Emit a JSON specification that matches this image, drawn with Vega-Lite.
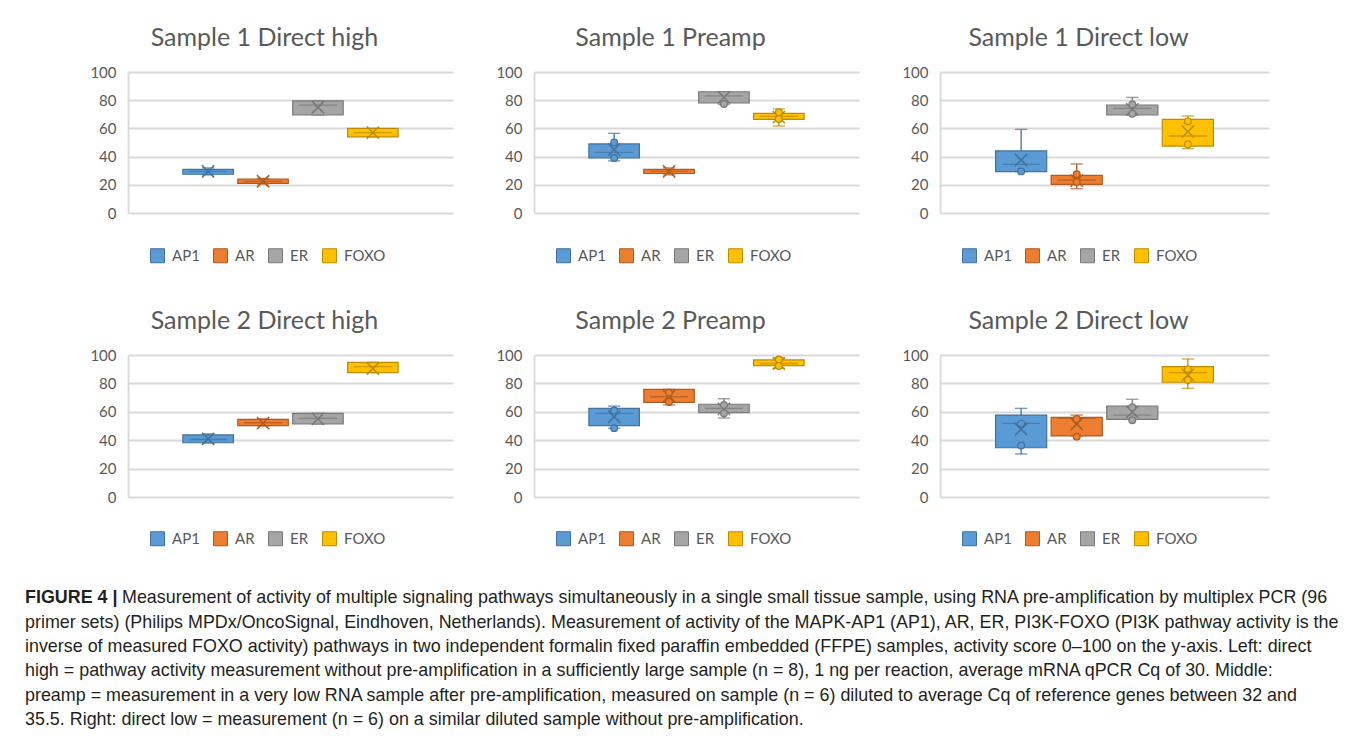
{
"$schema": "https://vega.github.io/schema/vega-lite/v6.json",
"padding": {"left": 25, "top": 26, "right": 0, "bottom": 0},
"background": "white",
"datasets": {
"boxes": [
{"panel":"S1DH","pathway":"AP1","lo":27,"q1":27.5,"med":29.5,"q3":31,"hi":32,"mean":29.5},
{"panel":"S1DH","pathway":"AR","lo":20.5,"q1":21,"med":22.5,"q3":24,"hi":24.5,"mean":22.5},
{"panel":"S1DH","pathway":"ER","lo":69.5,"q1":69.5,"med":76.5,"q3":79.5,"hi":79.5,"mean":75},
{"panel":"S1DH","pathway":"FOXO","lo":54,"q1":54,"med":57,"q3":60,"hi":60,"mean":57},
{"panel":"S1P","pathway":"AP1","lo":37,"q1":39,"med":43,"q3":49,"hi":56.5,"mean":45},
{"panel":"S1P","pathway":"AR","lo":27,"q1":28,"med":29.5,"q3":31,"hi":32,"mean":29.5},
{"panel":"S1P","pathway":"ER","lo":77,"q1":78,"med":83,"q3":86,"hi":86,"mean":82},
{"panel":"S1P","pathway":"FOXO","lo":61.7,"q1":66.4,"med":68.5,"q3":70.7,"hi":73.8,"mean":68},
{"panel":"S1DL","pathway":"AP1","lo":29.3,"q1":29.3,"med":34.5,"q3":44,"hi":59.3,"mean":37.6},
{"panel":"S1DL","pathway":"AR","lo":17.2,"q1":20.3,"med":23.4,"q3":26.7,"hi":34.8,"mean":23},
{"panel":"S1DL","pathway":"ER","lo":69.5,"q1":69.5,"med":74.2,"q3":76.6,"hi":82,"mean":73.5},
{"panel":"S1DL","pathway":"FOXO","lo":45.6,"q1":47.5,"med":54.6,"q3":66.4,"hi":68.8,"mean":57.7},
{"panel":"S2DH","pathway":"AP1","lo":38,"q1":38.2,"med":40.5,"q3":43.7,"hi":44.5,"mean":41},
{"panel":"S2DH","pathway":"AR","lo":50,"q1":50.2,"med":52.3,"q3":54.7,"hi":55,"mean":52},
{"panel":"S2DH","pathway":"ER","lo":51.4,"q1":51.4,"med":55.4,"q3":58.9,"hi":58.9,"mean":55},
{"panel":"S2DH","pathway":"FOXO","lo":87.6,"q1":87.6,"med":91.8,"q3":94.8,"hi":94.8,"mean":90.5},
{"panel":"S2P","pathway":"AP1","lo":48.4,"q1":50.2,"med":58.9,"q3":62.4,"hi":64,"mean":56.5},
{"panel":"S2P","pathway":"AR","lo":64.8,"q1":66.7,"med":70.6,"q3":75.8,"hi":75.8,"mean":71},
{"panel":"S2P","pathway":"ER","lo":55.6,"q1":59.4,"med":62.4,"q3":65.3,"hi":69.2,"mean":62},
{"panel":"S2P","pathway":"FOXO","lo":90.6,"q1":92.5,"med":94,"q3":96.5,"hi":98.1,"mean":94},
{"panel":"S2DL","pathway":"AP1","lo":30.3,"q1":34.7,"med":51.9,"q3":57.7,"hi":62.4,"mean":47.7},
{"panel":"S2DL","pathway":"AR","lo":43,"q1":43,"med":55.4,"q3":56.1,"hi":57.7,"mean":51.4},
{"panel":"S2DL","pathway":"ER","lo":54.7,"q1":54.7,"med":57.7,"q3":64.1,"hi":68.8,"mean":60},
{"panel":"S2DL","pathway":"FOXO","lo":76.5,"q1":80.8,"med":87.6,"q3":91.8,"hi":97.2,"mean":86}
],
"pts": [
{"panel":"S1P","pathway":"AP1","v":50},{"panel":"S1P","pathway":"AP1","v":39},
{"panel":"S1P","pathway":"ER","v":77.3},
{"panel":"S1P","pathway":"FOXO","v":71.4},{"panel":"S1P","pathway":"FOXO","v":66.7},
{"panel":"S1DL","pathway":"AP1","v":29.5},
{"panel":"S1DL","pathway":"AR","v":27.5},{"panel":"S1DL","pathway":"AR","v":22},
{"panel":"S1DL","pathway":"ER","v":70.4},{"panel":"S1DL","pathway":"ER","v":77},
{"panel":"S1DL","pathway":"FOXO","v":65},{"panel":"S1DL","pathway":"FOXO","v":48.7},
{"panel":"S2P","pathway":"AP1","v":61},{"panel":"S2P","pathway":"AP1","v":48.5},
{"panel":"S2P","pathway":"AR","v":73.5},{"panel":"S2P","pathway":"AR","v":67},
{"panel":"S2P","pathway":"ER","v":64.8},{"panel":"S2P","pathway":"ER","v":58.9},
{"panel":"S2P","pathway":"FOXO","v":96.8},{"panel":"S2P","pathway":"FOXO","v":92.3},
{"panel":"S2DL","pathway":"AP1","v":51.7},{"panel":"S2DL","pathway":"AP1","v":36.2},
{"panel":"S2DL","pathway":"AR","v":54.9},{"panel":"S2DL","pathway":"AR","v":42.5},
{"panel":"S2DL","pathway":"ER","v":63.2},{"panel":"S2DL","pathway":"ER","v":54},
{"panel":"S2DL","pathway":"FOXO","v":89.9},{"panel":"S2DL","pathway":"FOXO","v":82.4}
],
"cap": [
{"line":1,"part":"b","text":"FIGURE 4 |"},
{"line":1,"part":"r","text":"Measurement of activity of multiple signaling pathways simultaneously in a single small tissue sample, using RNA pre-amplification by multiplex PCR (96"},
{"line":2,"part":"n","text":"primer sets) (Philips MPDx/OncoSignal, Eindhoven, Netherlands). Measurement of activity of the MAPK-AP1 (AP1), AR, ER, PI3K-FOXO (PI3K pathway activity is the"},
{"line":3,"part":"n","text":"inverse of measured FOXO activity) pathways in two independent formalin fixed paraffin embedded (FFPE) samples, activity score 0–100 on the y-axis. Left: direct"},
{"line":4,"part":"n","text":"high = pathway activity measurement without pre-amplification in a sufficiently large sample (n = 8), 1 ng per reaction, average mRNA qPCR Cq of 30. Middle:"},
{"line":5,"part":"n","text":"preamp = measurement in a very low RNA sample after pre-amplification, measured on sample (n = 6) diluted to average Cq of reference genes between 32 and"},
{"line":6,"part":"n","text":"35.5. Right: direct low = measurement (n = 6) on a similar diluted sample without pre-amplification."}
]
},
"vconcat": [
{"vconcat": [
{"hconcat": [
{"width":325,"height":141,"title":"Sample 1 Direct high",
"encoding":{"x":{"field":"pathway","type":"nominal","axis":null,"scale":{"domain":["AP1","AR","ER","FOXO"],"paddingInner":0.08,"paddingOuter":2}}},
"layer":[
{"data":{"name":"boxes"},"transform":[{"filter":"datum.panel==='S1DH'"}],"mark":{"type":"rule","strokeWidth":1.3},"encoding":{"y":{"field":"lo","type":"quantitative","scale":{"domain":[0,100],"nice":false}},"y2":{"field":"hi"},"stroke":{"field":"pathway","type":"nominal","scale":{"domain":["AP1","AR","ER","FOXO"],"range":["#41719C","#AE5A21","#787878","#BC8C00"]},"legend":{"title":null}}}},
{"data":{"name":"boxes"},"transform":[{"filter":"datum.panel==='S1DH'"}],"mark":{"type":"tick","size":11,"thickness":0.1,"filled":false,"strokeWidth":1.3},"encoding":{"y":{"field":"lo","type":"quantitative"},"stroke":{"field":"pathway","type":"nominal","legend":{"title":null}}}},
{"data":{"name":"boxes"},"transform":[{"filter":"datum.panel==='S1DH'"}],"mark":{"type":"tick","size":11,"thickness":0.1,"filled":false,"strokeWidth":1.3},"encoding":{"y":{"field":"hi","type":"quantitative"},"stroke":{"field":"pathway","type":"nominal","legend":{"title":null}}}},
{"data":{"name":"boxes"},"transform":[{"filter":"datum.panel==='S1DH'"}],"mark":{"type":"bar","strokeWidth":1.2},"encoding":{"y":{"field":"q1","type":"quantitative"},"y2":{"field":"q3"},"fill":{"field":"pathway","type":"nominal","scale":{"domain":["AP1","AR","ER","FOXO"],"range":["#5B9BD5","#ED7D31","#A5A5A5","#FFC000"]},"legend":{"title":null}},"stroke":{"field":"pathway","type":"nominal","legend":{"title":null}}}},
{"data":{"name":"boxes"},"transform":[{"filter":"datum.panel==='S1DH'"}],"mark":{"type":"tick","size":37,"thickness":0.1,"filled":false,"strokeWidth":1.2},"encoding":{"y":{"field":"med","type":"quantitative"},"stroke":{"field":"pathway","type":"nominal","legend":{"title":null}}}},
{"data":{"name":"boxes"},"transform":[{"filter":"datum.panel==='S1DH'"}],"mark":{"type":"point","shape":"M-1,-1L1,1M-1,1L1,-1","filled":false,"size":150,"strokeWidth":1.5,"opacity":1},"encoding":{"y":{"field":"mean","type":"quantitative"},"stroke":{"field":"pathway","type":"nominal","legend":{"title":null}}}}
]},
{"width":325,"height":141,"title":"Sample 1 Preamp",
"encoding":{"x":{"field":"pathway","type":"nominal","axis":null,"scale":{"domain":["AP1","AR","ER","FOXO"],"paddingInner":0.08,"paddingOuter":2}}},
"layer":[
{"data":{"name":"boxes"},"transform":[{"filter":"datum.panel==='S1P'"}],"mark":{"type":"rule","strokeWidth":1.3},"encoding":{"y":{"field":"lo","type":"quantitative","scale":{"domain":[0,100],"nice":false}},"y2":{"field":"hi"},"stroke":{"field":"pathway","type":"nominal","scale":{"domain":["AP1","AR","ER","FOXO"],"range":["#41719C","#AE5A21","#787878","#BC8C00"]},"legend":{"title":null}}}},
{"data":{"name":"boxes"},"transform":[{"filter":"datum.panel==='S1P'"}],"mark":{"type":"tick","size":11,"thickness":0.1,"filled":false,"strokeWidth":1.3},"encoding":{"y":{"field":"lo","type":"quantitative"},"stroke":{"field":"pathway","type":"nominal","legend":{"title":null}}}},
{"data":{"name":"boxes"},"transform":[{"filter":"datum.panel==='S1P'"}],"mark":{"type":"tick","size":11,"thickness":0.1,"filled":false,"strokeWidth":1.3},"encoding":{"y":{"field":"hi","type":"quantitative"},"stroke":{"field":"pathway","type":"nominal","legend":{"title":null}}}},
{"data":{"name":"boxes"},"transform":[{"filter":"datum.panel==='S1P'"}],"mark":{"type":"bar","strokeWidth":1.2},"encoding":{"y":{"field":"q1","type":"quantitative"},"y2":{"field":"q3"},"fill":{"field":"pathway","type":"nominal","scale":{"domain":["AP1","AR","ER","FOXO"],"range":["#5B9BD5","#ED7D31","#A5A5A5","#FFC000"]},"legend":{"title":null}},"stroke":{"field":"pathway","type":"nominal","legend":{"title":null}}}},
{"data":{"name":"boxes"},"transform":[{"filter":"datum.panel==='S1P'"}],"mark":{"type":"tick","size":37,"thickness":0.1,"filled":false,"strokeWidth":1.2},"encoding":{"y":{"field":"med","type":"quantitative"},"stroke":{"field":"pathway","type":"nominal","legend":{"title":null}}}},
{"data":{"name":"boxes"},"transform":[{"filter":"datum.panel==='S1P'"}],"mark":{"type":"point","shape":"M-1,-1L1,1M-1,1L1,-1","filled":false,"size":150,"strokeWidth":1.5,"opacity":1},"encoding":{"y":{"field":"mean","type":"quantitative"},"stroke":{"field":"pathway","type":"nominal","legend":{"title":null}}}},
{"data":{"name":"pts"},"transform":[{"filter":"datum.panel==='S1P'"}],"mark":{"type":"point","shape":"circle","filled":true,"size":45,"strokeWidth":1.2,"opacity":1},"encoding":{"y":{"field":"v","type":"quantitative"},"fill":{"field":"pathway","type":"nominal","legend":{"title":null}},"stroke":{"field":"pathway","type":"nominal","legend":{"title":null}}}}
]},
{"width":329,"height":141,"title":"Sample 1 Direct low",
"encoding":{"x":{"field":"pathway","type":"nominal","axis":null,"scale":{"domain":["AP1","AR","ER","FOXO"],"paddingInner":0.08,"paddingOuter":2}}},
"layer":[
{"data":{"name":"boxes"},"transform":[{"filter":"datum.panel==='S1DL'"}],"mark":{"type":"rule","strokeWidth":1.3},"encoding":{"y":{"field":"lo","type":"quantitative","scale":{"domain":[0,100],"nice":false}},"y2":{"field":"hi"},"stroke":{"field":"pathway","type":"nominal","scale":{"domain":["AP1","AR","ER","FOXO"],"range":["#41719C","#AE5A21","#787878","#BC8C00"]},"legend":{"title":null}}}},
{"data":{"name":"boxes"},"transform":[{"filter":"datum.panel==='S1DL'"}],"mark":{"type":"tick","size":11,"thickness":0.1,"filled":false,"strokeWidth":1.3},"encoding":{"y":{"field":"lo","type":"quantitative"},"stroke":{"field":"pathway","type":"nominal","legend":{"title":null}}}},
{"data":{"name":"boxes"},"transform":[{"filter":"datum.panel==='S1DL'"}],"mark":{"type":"tick","size":11,"thickness":0.1,"filled":false,"strokeWidth":1.3},"encoding":{"y":{"field":"hi","type":"quantitative"},"stroke":{"field":"pathway","type":"nominal","legend":{"title":null}}}},
{"data":{"name":"boxes"},"transform":[{"filter":"datum.panel==='S1DL'"}],"mark":{"type":"bar","strokeWidth":1.2},"encoding":{"y":{"field":"q1","type":"quantitative"},"y2":{"field":"q3"},"fill":{"field":"pathway","type":"nominal","scale":{"domain":["AP1","AR","ER","FOXO"],"range":["#5B9BD5","#ED7D31","#A5A5A5","#FFC000"]},"legend":{"title":null}},"stroke":{"field":"pathway","type":"nominal","legend":{"title":null}}}},
{"data":{"name":"boxes"},"transform":[{"filter":"datum.panel==='S1DL'"}],"mark":{"type":"tick","size":37,"thickness":0.1,"filled":false,"strokeWidth":1.2},"encoding":{"y":{"field":"med","type":"quantitative"},"stroke":{"field":"pathway","type":"nominal","legend":{"title":null}}}},
{"data":{"name":"boxes"},"transform":[{"filter":"datum.panel==='S1DL'"}],"mark":{"type":"point","shape":"M-1,-1L1,1M-1,1L1,-1","filled":false,"size":150,"strokeWidth":1.5,"opacity":1},"encoding":{"y":{"field":"mean","type":"quantitative"},"stroke":{"field":"pathway","type":"nominal","legend":{"title":null}}}},
{"data":{"name":"pts"},"transform":[{"filter":"datum.panel==='S1DL'"}],"mark":{"type":"point","shape":"circle","filled":true,"size":45,"strokeWidth":1.2,"opacity":1},"encoding":{"y":{"field":"v","type":"quantitative"},"fill":{"field":"pathway","type":"nominal","legend":{"title":null}},"stroke":{"field":"pathway","type":"nominal","legend":{"title":null}}}}
]}
],"spacing":42,"resolve":{"scale":{"fill":"independent","stroke":"independent"},"legend":{"fill":"independent","stroke":"independent"}}},
{"hconcat": [
{"width":325,"height":142,"title":"Sample 2 Direct high",
"encoding":{"x":{"field":"pathway","type":"nominal","axis":null,"scale":{"domain":["AP1","AR","ER","FOXO"],"paddingInner":0.08,"paddingOuter":2}}},
"layer":[
{"data":{"name":"boxes"},"transform":[{"filter":"datum.panel==='S2DH'"}],"mark":{"type":"rule","strokeWidth":1.3},"encoding":{"y":{"field":"lo","type":"quantitative","scale":{"domain":[0,100],"nice":false}},"y2":{"field":"hi"},"stroke":{"field":"pathway","type":"nominal","scale":{"domain":["AP1","AR","ER","FOXO"],"range":["#41719C","#AE5A21","#787878","#BC8C00"]},"legend":{"title":null}}}},
{"data":{"name":"boxes"},"transform":[{"filter":"datum.panel==='S2DH'"}],"mark":{"type":"tick","size":11,"thickness":0.1,"filled":false,"strokeWidth":1.3},"encoding":{"y":{"field":"lo","type":"quantitative"},"stroke":{"field":"pathway","type":"nominal","legend":{"title":null}}}},
{"data":{"name":"boxes"},"transform":[{"filter":"datum.panel==='S2DH'"}],"mark":{"type":"tick","size":11,"thickness":0.1,"filled":false,"strokeWidth":1.3},"encoding":{"y":{"field":"hi","type":"quantitative"},"stroke":{"field":"pathway","type":"nominal","legend":{"title":null}}}},
{"data":{"name":"boxes"},"transform":[{"filter":"datum.panel==='S2DH'"}],"mark":{"type":"bar","strokeWidth":1.2},"encoding":{"y":{"field":"q1","type":"quantitative"},"y2":{"field":"q3"},"fill":{"field":"pathway","type":"nominal","scale":{"domain":["AP1","AR","ER","FOXO"],"range":["#5B9BD5","#ED7D31","#A5A5A5","#FFC000"]},"legend":{"title":null}},"stroke":{"field":"pathway","type":"nominal","legend":{"title":null}}}},
{"data":{"name":"boxes"},"transform":[{"filter":"datum.panel==='S2DH'"}],"mark":{"type":"tick","size":37,"thickness":0.1,"filled":false,"strokeWidth":1.2},"encoding":{"y":{"field":"med","type":"quantitative"},"stroke":{"field":"pathway","type":"nominal","legend":{"title":null}}}},
{"data":{"name":"boxes"},"transform":[{"filter":"datum.panel==='S2DH'"}],"mark":{"type":"point","shape":"M-1,-1L1,1M-1,1L1,-1","filled":false,"size":150,"strokeWidth":1.5,"opacity":1},"encoding":{"y":{"field":"mean","type":"quantitative"},"stroke":{"field":"pathway","type":"nominal","legend":{"title":null}}}}
]},
{"width":325,"height":142,"title":"Sample 2 Preamp",
"encoding":{"x":{"field":"pathway","type":"nominal","axis":null,"scale":{"domain":["AP1","AR","ER","FOXO"],"paddingInner":0.08,"paddingOuter":2}}},
"layer":[
{"data":{"name":"boxes"},"transform":[{"filter":"datum.panel==='S2P'"}],"mark":{"type":"rule","strokeWidth":1.3},"encoding":{"y":{"field":"lo","type":"quantitative","scale":{"domain":[0,100],"nice":false}},"y2":{"field":"hi"},"stroke":{"field":"pathway","type":"nominal","scale":{"domain":["AP1","AR","ER","FOXO"],"range":["#41719C","#AE5A21","#787878","#BC8C00"]},"legend":{"title":null}}}},
{"data":{"name":"boxes"},"transform":[{"filter":"datum.panel==='S2P'"}],"mark":{"type":"tick","size":11,"thickness":0.1,"filled":false,"strokeWidth":1.3},"encoding":{"y":{"field":"lo","type":"quantitative"},"stroke":{"field":"pathway","type":"nominal","legend":{"title":null}}}},
{"data":{"name":"boxes"},"transform":[{"filter":"datum.panel==='S2P'"}],"mark":{"type":"tick","size":11,"thickness":0.1,"filled":false,"strokeWidth":1.3},"encoding":{"y":{"field":"hi","type":"quantitative"},"stroke":{"field":"pathway","type":"nominal","legend":{"title":null}}}},
{"data":{"name":"boxes"},"transform":[{"filter":"datum.panel==='S2P'"}],"mark":{"type":"bar","strokeWidth":1.2},"encoding":{"y":{"field":"q1","type":"quantitative"},"y2":{"field":"q3"},"fill":{"field":"pathway","type":"nominal","scale":{"domain":["AP1","AR","ER","FOXO"],"range":["#5B9BD5","#ED7D31","#A5A5A5","#FFC000"]},"legend":{"title":null}},"stroke":{"field":"pathway","type":"nominal","legend":{"title":null}}}},
{"data":{"name":"boxes"},"transform":[{"filter":"datum.panel==='S2P'"}],"mark":{"type":"tick","size":37,"thickness":0.1,"filled":false,"strokeWidth":1.2},"encoding":{"y":{"field":"med","type":"quantitative"},"stroke":{"field":"pathway","type":"nominal","legend":{"title":null}}}},
{"data":{"name":"boxes"},"transform":[{"filter":"datum.panel==='S2P'"}],"mark":{"type":"point","shape":"M-1,-1L1,1M-1,1L1,-1","filled":false,"size":150,"strokeWidth":1.5,"opacity":1},"encoding":{"y":{"field":"mean","type":"quantitative"},"stroke":{"field":"pathway","type":"nominal","legend":{"title":null}}}},
{"data":{"name":"pts"},"transform":[{"filter":"datum.panel==='S2P'"}],"mark":{"type":"point","shape":"circle","filled":true,"size":45,"strokeWidth":1.2,"opacity":1},"encoding":{"y":{"field":"v","type":"quantitative"},"fill":{"field":"pathway","type":"nominal","legend":{"title":null}},"stroke":{"field":"pathway","type":"nominal","legend":{"title":null}}}}
]},
{"width":329,"height":142,"title":"Sample 2 Direct low",
"encoding":{"x":{"field":"pathway","type":"nominal","axis":null,"scale":{"domain":["AP1","AR","ER","FOXO"],"paddingInner":0.08,"paddingOuter":2}}},
"layer":[
{"data":{"name":"boxes"},"transform":[{"filter":"datum.panel==='S2DL'"}],"mark":{"type":"rule","strokeWidth":1.3},"encoding":{"y":{"field":"lo","type":"quantitative","scale":{"domain":[0,100],"nice":false}},"y2":{"field":"hi"},"stroke":{"field":"pathway","type":"nominal","scale":{"domain":["AP1","AR","ER","FOXO"],"range":["#41719C","#AE5A21","#787878","#BC8C00"]},"legend":{"title":null}}}},
{"data":{"name":"boxes"},"transform":[{"filter":"datum.panel==='S2DL'"}],"mark":{"type":"tick","size":11,"thickness":0.1,"filled":false,"strokeWidth":1.3},"encoding":{"y":{"field":"lo","type":"quantitative"},"stroke":{"field":"pathway","type":"nominal","legend":{"title":null}}}},
{"data":{"name":"boxes"},"transform":[{"filter":"datum.panel==='S2DL'"}],"mark":{"type":"tick","size":11,"thickness":0.1,"filled":false,"strokeWidth":1.3},"encoding":{"y":{"field":"hi","type":"quantitative"},"stroke":{"field":"pathway","type":"nominal","legend":{"title":null}}}},
{"data":{"name":"boxes"},"transform":[{"filter":"datum.panel==='S2DL'"}],"mark":{"type":"bar","strokeWidth":1.2},"encoding":{"y":{"field":"q1","type":"quantitative"},"y2":{"field":"q3"},"fill":{"field":"pathway","type":"nominal","scale":{"domain":["AP1","AR","ER","FOXO"],"range":["#5B9BD5","#ED7D31","#A5A5A5","#FFC000"]},"legend":{"title":null}},"stroke":{"field":"pathway","type":"nominal","legend":{"title":null}}}},
{"data":{"name":"boxes"},"transform":[{"filter":"datum.panel==='S2DL'"}],"mark":{"type":"tick","size":37,"thickness":0.1,"filled":false,"strokeWidth":1.2},"encoding":{"y":{"field":"med","type":"quantitative"},"stroke":{"field":"pathway","type":"nominal","legend":{"title":null}}}},
{"data":{"name":"boxes"},"transform":[{"filter":"datum.panel==='S2DL'"}],"mark":{"type":"point","shape":"M-1,-1L1,1M-1,1L1,-1","filled":false,"size":150,"strokeWidth":1.5,"opacity":1},"encoding":{"y":{"field":"mean","type":"quantitative"},"stroke":{"field":"pathway","type":"nominal","legend":{"title":null}}}},
{"data":{"name":"pts"},"transform":[{"filter":"datum.panel==='S2DL'"}],"mark":{"type":"point","shape":"circle","filled":true,"size":45,"strokeWidth":1.2,"opacity":1},"encoding":{"y":{"field":"v","type":"quantitative"},"fill":{"field":"pathway","type":"nominal","legend":{"title":null}},"stroke":{"field":"pathway","type":"nominal","legend":{"title":null}}}}
]}
],"spacing":42,"resolve":{"scale":{"fill":"independent","stroke":"independent"},"legend":{"fill":"independent","stroke":"independent"}}}
],"spacing":44,"resolve":{"scale":{"fill":"independent","stroke":"independent"},"legend":{"fill":"independent","stroke":"independent"}}},
{"width":1347,"height":146,"data":{"name":"cap"},
"encoding":{"y":{"field":"line","type":"ordinal","axis":null,"scale":{"type":"point","padding":0.5}},"x":{"value":0},"text":{"field":"text"}},
"layer":[
{"transform":[{"filter":"datum.part==='b'"}],"mark":{"type":"text","align":"left","baseline":"middle","font":"Liberation Sans","fontSize":17.9,"fontWeight":"bold","color":"#231F20"}},
{"transform":[{"filter":"datum.part==='r'"}],"mark":{"type":"text","align":"left","baseline":"middle","font":"Liberation Sans","fontSize":17.9,"dx":97,"color":"#231F20"}},
{"transform":[{"filter":"datum.part==='n'"}],"mark":{"type":"text","align":"left","baseline":"middle","font":"Liberation Sans","fontSize":17.9,"color":"#231F20"}}
]}
],
"spacing": 38,
"center": true,
"resolve":{"scale":{"fill":"independent","stroke":"independent"},"legend":{"fill":"independent","stroke":"independent"}},
"config": {
"view": {"stroke": null},
"font": "Lato",
"axisY": {"values":[0,20,40,60,80,100],"ticks":false,"domainColor":"#D9D9D9","domainWidth":1.8,"gridColor":"#D9D9D9","gridWidth":1.8,"labelFontSize":15,"labelColor":"#595959","labelPadding":12,"title":null,"labelFont":"Lato"},
"title": {"fontSize":25,"fontWeight":"normal","color":"#595959","font":"Lato","offset":14,"dx":-26},
"legend": {"orient":"none","legendX":22,"legendY":176,"direction":"horizontal","symbolType":"square","symbolSize":196,"symbolOpacity":1,"labelFontSize":15,"labelFont":"Lato","labelColor":"#595959","columnPadding":11,"labelOffset":7,"symbolStrokeWidth":1}
}
}
